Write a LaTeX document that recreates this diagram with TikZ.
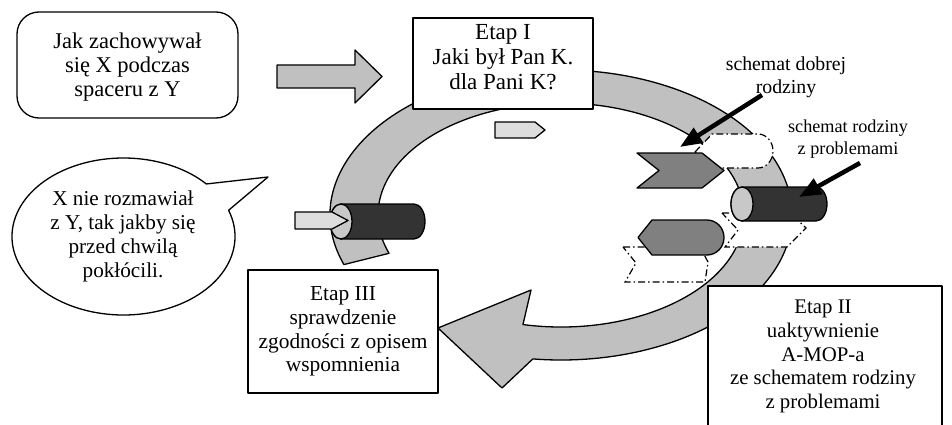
\documentclass[tikz,border=0pt]{standalone}
\usepackage{fontspec}
\setmainfont{Liberation Serif}
\usetikzlibrary{arrows.meta}
\definecolor{ringgrey}{HTML}{C0C0C0}
\definecolor{palegrey}{HTML}{DDDDDD}
\definecolor{midgrey}{HTML}{808080}
\definecolor{darkgrey}{HTML}{333333}
\definecolor{facegrey}{HTML}{C8C8C8}
\tikzset{
  lineart/.style={draw=black, line width=1.3pt, line join=round},
  txtmain/.style={align=center, inner sep=0pt},
  stagebox/.style={lineart, fill=white, rectangle, inner sep=0pt},
  ddshape/.style={draw=black, line width=1.2pt, fill=white, dash pattern=on 7pt off 3pt on 1.5pt off 3pt},
  pointerarrow/.style={line width=4.5pt, -{Triangle[length=22pt,width=17pt]}},
}
\begin{document}
\begin{tikzpicture}[x=1pt,y=-1pt]
\useasboundingbox (0,0) rectangle (952,425);
\clip (0,0) rectangle (952,425);
\fill[white] (0,0) rectangle (952,425);

% big circular arrow
\path[lineart, fill=ringgrey]
  ({561+231*cos(160)},{215+145*sin(160)})
  arc[start angle=160, end angle=457, x radius=231, y radius=145]
  -- (502,388) -- (438,328) -- (531,290)
  -- ({561+183*cos(102)},{215+112*sin(102)})
  arc[start angle=462, end angle=160, x radius=183, y radius=112]
  -- cycle;

% dash-dotted shapes
\path[ddshape] (695,152) -- (712,134) -- (758,134)
  arc[start angle=-90, end angle=90, x radius=15, y radius=17]
  -- (712,168) -- cycle;
\path[ddshape] (722,213) -- (790,213) -- (806,228) -- (787,247) -- (725,247) -- (738,230) -- cycle;
\path[ddshape] (623,247) -- (700,247) -- (708,262) -- (705,282) -- (625,282) -- (636,263) -- cycle;

% chevron and hexagon
\path[lineart, fill=midgrey] (637,153) -- (702,153) -- (724,170.5) -- (702,188) -- (637,188) -- (659,170.5) -- cycle;
\path[lineart, fill=midgrey] (652,220) -- (707,220)
  arc[start angle=-90, end angle=90, x radius=17, y radius=17.5]
  -- (652,255) -- (638,237.5) -- cycle;

% left cylinder
\path[lineart, fill=darkgrey] (341,204) -- (414,204)
  arc[start angle=-90, end angle=90, x radius=11, y radius=17.5]
  -- (341,239)
  arc[start angle=90, end angle=270, x radius=11, y radius=17.5] -- cycle;
\path[lineart, fill=facegrey] (341,221.5) ellipse [x radius=11, y radius=17.5];
% right cylinder
\path[lineart, fill=darkgrey] (742,187) -- (816,187)
  arc[start angle=-90, end angle=90, x radius=11, y radius=17]
  -- (742,221)
  arc[start angle=90, end angle=270, x radius=11, y radius=17] -- cycle;
\path[lineart, fill=facegrey] (742,204) ellipse [x radius=11, y radius=17];

% small pentagon arrows
\path[lineart, fill=palegrey] (295,212) -- (332,212) -- (348,220.5) -- (332,229) -- (295,229) -- cycle;
\path[lineart, fill=palegrey] (495,122) -- (535,122) -- (545,130) -- (535,138) -- (495,138) -- cycle;

% question box and block arrow
\node[lineart, fill=white, rectangle, rounded corners=22pt, minimum width=221pt, minimum height=106pt] (qbox) at (127.5,65) {};
\node[txtmain, font=\fontsize{22.5}{23.6}\selectfont] (qtext) at (127.5,67) {Jak zachowywał\\się X podczas\\spaceru z Y};
\path[lineart, fill=ringgrey] (277,65) -- (355,65) -- (355,50) -- (382,76.5) -- (355,103) -- (355,88) -- (277,88) -- cycle;

% speech bubble
\path[lineart, fill=white]
  ({123.5+111.5*cos(-19.5)},{236.5+78.5*sin(-19.5)})
  arc[start angle=-19.5, end angle=318, x radius=111.5, y radius=78.5]
  -- (268,177) -- cycle;
\node[txtmain, font=\fontsize{21.2}{24}\selectfont] (bubbletext) at (123,236.5) {X nie rozmawiał\\z Y, tak jakby się\\przed chwilą\\pokłócili.};

% stage boxes
\node[stagebox, minimum width=180pt, minimum height=91pt] (etapIbox) at (503,63.5) {};
\node[txtmain, font=\fontsize{23}{25}\selectfont] (etapItext) at (503,57.5) {Etap I\\Jaki był Pan K.\\dla Pani K?};
\node[stagebox, minimum width=190pt, minimum height=123pt] (etapIIIbox) at (343,331.5) {};
\node[txtmain, font=\fontsize{21.4}{23.7}\selectfont] (etapIIItext) at (343,331.5) {Etap III\\sprawdzenie\\zgodności z opisem\\wspomnienia};
\node[stagebox, minimum width=234pt, minimum height=154pt] (etapIIbox) at (825,363) {};
\node[txtmain, font=\fontsize{20.8}{23.75}\selectfont] (etapIItext) at (823,356.5) {Etap II\\uaktywnienie\\A-MOP-a\\ze schematem rodziny\\z problemami};

% labels and pointer arrows
\node[txtmain, font=\fontsize{19.8}{23}\selectfont] (goodlabel) at (786,77) {schemat dobrej\\rodziny};
\node[txtmain, font=\fontsize{18.2}{22}\selectfont] (problabel) at (848,139) {schemat rodziny\\z problemami};
\coordinate (goodstart) at (762,95);
\coordinate (goodtip) at (680,147);
\coordinate (probstart) at (860,163);
\coordinate (probtip) at (799,197);
\draw[pointerarrow] (goodstart) -- (goodtip);
\draw[pointerarrow] (probstart) -- (probtip);
\end{tikzpicture}
\end{document}
